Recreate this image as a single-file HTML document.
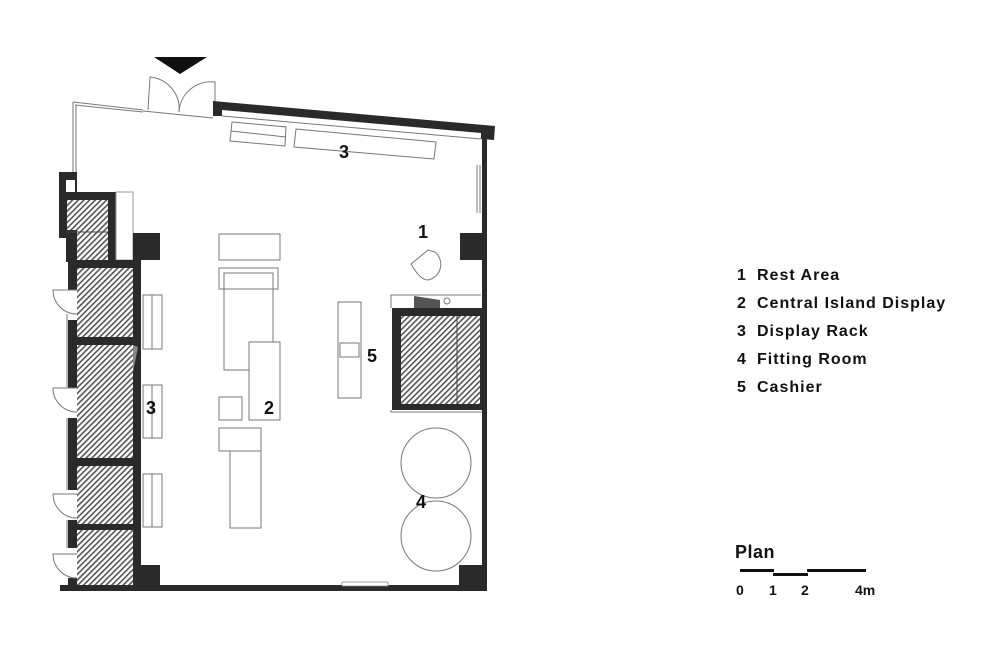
<!DOCTYPE html>
<html><head><meta charset="utf-8"><style>
html,body{margin:0;padding:0;background:#fff;}
svg{display:block}
text{font-family:"Liberation Sans",sans-serif;font-weight:bold;fill:#111}
</style></head><body>
<svg width="1000" height="645" viewBox="0 0 1000 645" xmlns="http://www.w3.org/2000/svg">
<defs>
<pattern id="h" patternUnits="userSpaceOnUse" width="4" height="4" patternTransform="rotate(45)">
<rect width="4" height="4" fill="#fff"/><rect width="1.6" height="4" fill="#555"/>
</pattern>
</defs>
<polygon points="154,57 207,57 180,74" fill="#111"/>
<g fill="none" stroke="#777" stroke-width="1">
<path d="M148,110 L150,77 A32,32 0 0 1 179,112"/>
<path d="M215,113 L215,82 A32,32 0 0 0 179,112"/>
<path d="M143,111 L213,118"/>
<path d="M73,102 L143,110 M75,105 L143,112"/>
<path d="M73,102 L73,172 M76,105 L76,172"/>
</g>
<polygon points="213,101 495,126 494,140 481,139 481,133 222,110 222,116 213,116" fill="#2a2a2a"/>
<g fill="none" stroke="#777" stroke-width="1">
<path d="M222,116 L481,139"/>
<polygon points="232,122 286,127 285,146 230,141"/>
<path d="M231,131 L286,137"/>
<polygon points="296,129 436,142 434,159 294,147"/>
<path d="M477,165 L477,213 M480,165 L480,213"/>
</g>
<rect x="482" y="138" width="5" height="452" fill="#2a2a2a"/>
<rect x="460" y="233" width="27" height="27" fill="#2a2a2a"/>
<rect x="459" y="565" width="28" height="26" fill="#2a2a2a"/>
<rect x="60" y="585" width="427" height="6" fill="#2a2a2a"/>
<rect x="342" y="582" width="46" height="4" fill="#fff" stroke="#888" stroke-width="0.8"/>
<rect x="59" y="172" width="18" height="66" fill="#2a2a2a"/>
<rect x="66" y="180" width="9" height="12" fill="#fff"/>
<rect x="66" y="192" width="50" height="70" fill="#2a2a2a"/>
<rect x="116" y="192" width="17" height="68" fill="#fff" stroke="#999" stroke-width="1"/>
<rect x="68" y="260" width="73" height="328" fill="#2a2a2a"/>
<rect x="133" y="233" width="27" height="27" fill="#2a2a2a"/>
<rect x="133" y="565" width="27" height="26" fill="#2a2a2a"/>
<rect x="77" y="200" width="31" height="60" fill="url(#h)"/>
<rect x="67" y="200" width="10" height="30" fill="url(#h)"/>
<path d="M67,232 H108" stroke="#444" stroke-width="1"/>
<rect x="77" y="268" width="56" height="69" fill="url(#h)"/>
<rect x="77" y="345" width="56" height="113" fill="url(#h)"/>
<rect x="77" y="466" width="56" height="58" fill="url(#h)"/>
<rect x="77" y="530" width="56" height="55" fill="url(#h)"/>
<polygon points="133,345 138,347 133,372" fill="#888"/>
<g fill="#fff"><rect x="66" y="290" width="11" height="30"/><rect x="66" y="388" width="11" height="30"/><rect x="66" y="490" width="11" height="30"/><rect x="66" y="548" width="11" height="30"/></g>
<g fill="none" stroke="#777" stroke-width="1">
<path d="M77,290 L53,290 A24,24 0 0 0 77,314"/>
<path d="M77,388 L53,388 A24,24 0 0 0 77,412"/>
<path d="M77,494 L53,494 A24,24 0 0 0 77,518"/>
<path d="M77,554 L53,554 A24,24 0 0 0 77,578"/>
<path d="M67,314 L67,388 M67,418 L67,490 M67,520 L67,548"/>
<rect x="143" y="295" width="19" height="54"/><path d="M152,295 V349"/>
<rect x="143" y="385" width="19" height="53"/><path d="M152,385 V438"/>
<rect x="143" y="474" width="19" height="53"/><path d="M152,474 V527"/>
<rect x="219" y="234" width="61" height="26"/>
<rect x="219" y="268" width="59" height="21"/>
<rect x="224" y="273" width="49" height="97"/>
<rect x="249" y="342" width="31" height="78" fill="#fff"/>
<rect x="219" y="397" width="23" height="23"/>
<rect x="219" y="428" width="42" height="23"/>
<rect x="230" y="451" width="31" height="77"/>
<rect x="338" y="302" width="23" height="96"/>
<rect x="340" y="343" width="19" height="14"/>
<path d="M411,264 L428,250 L435,252 A16,16 0 0 1 428,280 Q420,280 411,264 Z"/>
<path d="M391,308 L391,295 L481,295"/>
<circle cx="447" cy="301" r="3"/>
<circle cx="436" cy="463" r="35"/>
<circle cx="436" cy="536" r="35"/>
<path d="M391,410 L391,412 L482,412"/>
</g>
<polygon points="414,296 440,300 440,308 414,308" fill="#555"/>
<rect x="392" y="308" width="95" height="102" fill="#2a2a2a"/>
<rect x="401" y="316" width="79" height="88" fill="url(#h)"/>
<path d="M457,316 V404" stroke="#444" stroke-width="1"/>
<text x="339" y="158" font-size="18">3</text>
<text x="418" y="238" font-size="18">1</text>
<text x="367" y="362" font-size="18">5</text>
<text x="264" y="414" font-size="18">2</text>
<text x="146" y="414" font-size="18">3</text>
<text x="416" y="508" font-size="18">4</text>
<g font-size="16" letter-spacing="1">
<text x="737" y="280">1</text><text x="757" y="280">Rest Area</text>
<text x="737" y="308">2</text><text x="757" y="308">Central Island Display</text>
<text x="737" y="336">3</text><text x="757" y="336">Display Rack</text>
<text x="737" y="364">4</text><text x="757" y="364">Fitting Room</text>
<text x="737" y="392">5</text><text x="757" y="392">Cashier</text>
</g>
<text x="735" y="558" font-size="18" letter-spacing="0.5">Plan</text>
<rect x="740" y="569" width="34" height="3" fill="#111"/>
<rect x="773" y="573" width="35" height="3" fill="#111"/>
<rect x="807" y="569" width="59" height="3" fill="#111"/>
<g font-size="14"><text x="736" y="595">0</text><text x="769" y="595">1</text><text x="801" y="595">2</text><text x="855" y="595">4m</text></g>
</svg>
</body></html>
